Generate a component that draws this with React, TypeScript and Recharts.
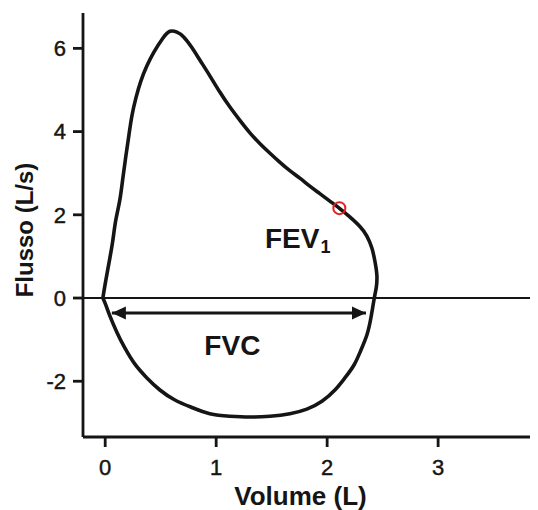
import React from 'react';
import { LineChart, Line, XAxis, YAxis, ReferenceLine, ReferenceDot } from 'recharts';

// Flow-volume loop: volume (L) vs flow (L/s), traced in drawing order
const loopVolume = [
  -0.021, 0.006, 0.042, 0.069, 0.096, 0.132, 0.159, 0.186, 0.214, 0.241, 0.277, 0.322, 0.376, 0.439, 0.521,
  0.583, 0.646, 0.709, 0.781, 0.853, 0.943, 1.033, 1.124, 1.214, 1.304, 1.395, 1.485, 1.575, 1.664, 1.754,
  1.844, 1.934, 2.024, 2.114, 2.204, 2.295, 2.358, 2.403, 2.43, 2.448, 2.443, 2.425, 2.394, 2.358, 2.305,
  2.242, 2.16, 2.07, 1.953, 1.817, 1.664, 1.484, 1.304, 1.123, 0.943, 0.781, 0.628, 0.493, 0.376, 0.268,
  0.177, 0.105, 0.042, 0.006, -0.021,
];
const loopFlow = [
  0, 0.43, 0.96, 1.39, 1.88, 2.36, 2.88, 3.41, 3.92, 4.38, 4.81, 5.22, 5.58, 5.91, 6.25,
  6.41, 6.39, 6.27, 6.02, 5.72, 5.34, 4.95, 4.59, 4.27, 3.97, 3.71, 3.48, 3.26, 3.06, 2.88,
  2.69, 2.51, 2.33, 2.15, 1.95, 1.72, 1.49, 1.2, 0.89, 0.55, 0.26, 0, -0.48, -0.89, -1.25,
  -1.61, -1.92, -2.21, -2.48, -2.67, -2.78, -2.84, -2.86, -2.84, -2.78, -2.63, -2.45, -2.21, -1.92, -1.59,
  -1.2, -0.82, -0.43, -0.17, 0,
];

// FVC double arrow (volume span at a fixed flow)
const fvcVolume = [0.06, 2.35];
const fvcFlow = [-0.36, -0.36];

// FEV1 marker
const fev1Point = { x: 2.11, y: 2.16 };

// Annotation anchors
const fevLabelPos = { x: 1.44, y: 1.2 };
const fvcLabelPos = { x: 1.146, y: -1.37 };

const xTicks = [0, 1, 2, 3];
const yTicks = [-2, 0, 2, 4, 6];
const xDomain = [-0.2, 3.9];
const yDomain = [-3.34, 6.85];

const loopData = loopVolume.map((x, i) => ({ x, y: loopFlow[i] }));
const fvcData = fvcVolume.map((x, i) => ({ x, y: fvcFlow[i] }));

const INK = '#151515';
const FONT = '"Liberation Sans", Arial, Helvetica, sans-serif';

const ArrowHead = (props: any) => {
  const { cx, cy, index } = props;
  if (cx == null || cy == null) return <g key={`ah-${index}`} />;
  const dir = index === 0 ? -1 : 1;
  const len = 14;
  const half = 6.5;
  return (
    <polygon
      key={`ah-${index}`}
      points={`${cx},${cy} ${cx - dir * len},${cy - half} ${cx - dir * len},${cy + half}`}
      fill={INK}
    />
  );
};

const YLabel = (props: any) => {
  const vb = props.viewBox || { x: 0, y: 0, width: 0, height: 0 };
  const x = vb.x + 25;
  const y = vb.y + vb.height / 2 + 5;
  return (
    <text
      x={x}
      y={y}
      transform={`rotate(-90, ${x}, ${y})`}
      textAnchor="middle"
      fontFamily={FONT}
      fontWeight="bold"
      fontSize={24}
      fill={INK}
    >
      Flusso (L/s)
    </text>
  );
};

const tickStyle = { fill: INK, fontSize: 22, fontFamily: FONT, stroke: INK, strokeWidth: 0.45 };

export default function App() {
  return (
    <div style={{ width: 530, height: 502, background: '#ffffff' }}>
      <LineChart width={530} height={502} margin={{ top: 5, right: 0, bottom: 0, left: 0 }}>
        <XAxis
          dataKey="x"
          type="number"
          domain={xDomain}
          ticks={xTicks}
          allowDataOverflow
          height={73}
          tickSize={10}
          tickMargin={12}
          axisLine={{ stroke: INK, strokeWidth: 2.8 }}
          tickLine={{ stroke: INK, strokeWidth: 2.8 }}
          tick={tickStyle}
          label={{
            value: 'Volume (L)',
            position: 'insideBottom',
            offset: 5,
            dx: -10,
            fill: INK,
            fontSize: 26,
            fontWeight: 'bold',
            fontFamily: FONT,
          }}
        />
        <YAxis
          type="number"
          domain={yDomain}
          ticks={yTicks}
          allowDataOverflow
          width={75}
          tickSize={10}
          tickMargin={7}
          axisLine={{ stroke: INK, strokeWidth: 2.8 }}
          tickLine={{ stroke: INK, strokeWidth: 2.8 }}
          tick={tickStyle}
          label={{ content: YLabel }}
        />
        <ReferenceLine y={0} stroke={INK} strokeWidth={2} />
        <Line
          data={loopData}
          dataKey="y"
          type="natural"
          stroke={INK}
          strokeWidth={3.6}
          strokeLinejoin="round"
          dot={false}
          activeDot={false}
          isAnimationActive={false}
        />
        <Line
          data={fvcData}
          dataKey="y"
          type="linear"
          stroke={INK}
          strokeWidth={3}
          dot={ArrowHead}
          activeDot={false}
          isAnimationActive={false}
        />
        <ReferenceDot
          x={fev1Point.x}
          y={fev1Point.y}
          r={6}
          fill="none"
          stroke="#e3201f"
          strokeWidth={2}
        />
        <ReferenceDot
          x={fevLabelPos.x}
          y={fevLabelPos.y}
          r={0}
          shape={(p: any) => (
            <text x={p.cx} y={p.cy} fontFamily={FONT} fontWeight="bold" fontSize={28} fill={INK}>
              FEV
              <tspan fontSize={18} dx={1} dy={5}>
                1
              </tspan>
            </text>
          )}
        />
        <ReferenceDot
          x={fvcLabelPos.x}
          y={fvcLabelPos.y}
          r={0}
          shape={(p: any) => (
            <text x={p.cx} y={p.cy} textAnchor="middle" fontFamily={FONT} fontWeight="bold" fontSize={28} fill={INK}>
              FVC
            </text>
          )}
        />
      </LineChart>
    </div>
  );
}
